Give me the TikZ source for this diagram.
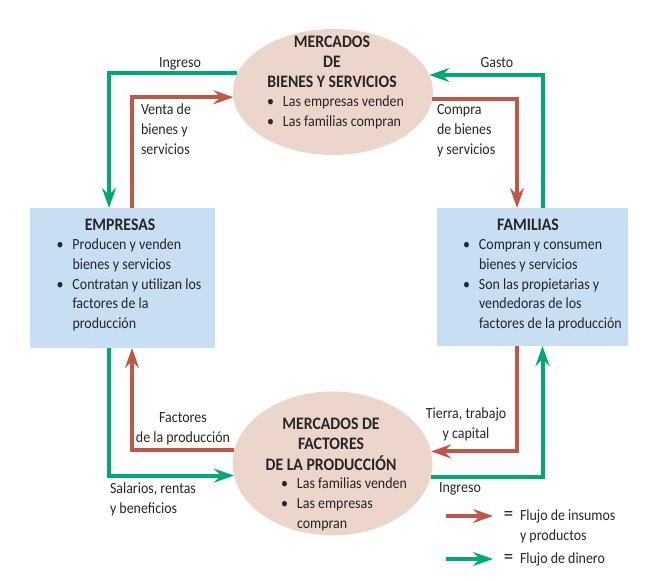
\documentclass[tikz,border=0pt]{standalone}
\usepackage{fontspec}
\setmainfont{Carlito}[FakeStretch=0.9]
\usetikzlibrary{arrows.meta,calc,shapes.geometric}
\definecolor{flowred}{HTML}{BF5647}
\definecolor{flowgreen}{HTML}{00A878}
\definecolor{ellfill}{HTML}{ECD5CA}
\definecolor{boxfill}{HTML}{C8DEF3}
\definecolor{txt}{HTML}{262626}
\newcommand{\tb}[2]{\begin{tabular}{@{}#1@{}}#2\end{tabular}}
\newcommand{\bl}{\makebox[16pt][l]{\textbullet}}
\newcommand{\ind}{\hspace*{16pt}}
\newcommand{\eqsign}{\makebox[11pt][c]{\fontsize{21}{19.7}\selectfont=}}
\tikzset{
  every node/.style={inner sep=0pt, outer sep=0pt, text=txt, font=\fontsize{15.5}{19.7}\selectfont},
  title/.style={font=\fontsize{17.5}{19.7}\selectfont\bfseries},
  market/.style={ellipse, fill=ellfill, draw=none},
  agent/.style={rectangle, fill=boxfill, draw=none},
  flow/.style={line width=4pt, -{Stealth[length=20pt,width=14pt,inset=7pt]}},
  redflow/.style={flow, draw=flowred},
  greenflow/.style={flow, draw=flowgreen},
}
\begin{document}
\begin{tikzpicture}[x=1pt,y=-1pt]
\useasboundingbox (0,0) rectangle (654,581);
% shapes
\node[market, minimum width=200pt, minimum height=126pt] (mbs) at (333,92) {};
\node[market, minimum width=200pt, minimum height=144pt] (mfp) at (332.5,463.5) {};
\node[agent, minimum width=185pt, minimum height=140pt] (emp) at (122.5,278) {};
\node[agent, minimum width=191pt, minimum height=138pt] (fam) at (532.5,277) {};
% texts in shapes
\node[title, anchor=north] (mbst) at (332,34) {\tb{c}{MERCADOS\\DE\\BIENES Y SERVICIOS}};
\node[anchor=north west] (mbsb) at (267,93) {\tb{l}{\bl Las empresas venden\\\bl Las familias compran}};
\node[title, anchor=north] (mfpt) at (331,416) {\tb{c}{MERCADOS DE\\FACTORES\\DE LA PRODUCCIÓN}};
\node[anchor=north west] (mfpb) at (281,475) {\tb{l}{\bl Las familias venden\\\bl Las empresas\\\ind compran}};
\node[title, anchor=north] (empt) at (120,217) {\tb{c}{EMPRESAS}};
\node[anchor=north west] (empb) at (56.5,236) {\tb{l}{\bl Producen y venden\\\ind bienes y servicios\\\bl Contratan y utilizan los\\\ind factores de la\\\ind producción}};
\node[title, anchor=north] (famt) at (528,217) {\tb{c}{FAMILIAS}};
\node[anchor=north west] (famb) at (463,236) {\tb{l}{\bl Compran y consumen\\\ind bienes y servicios\\\bl Son las propietarias y\\\ind vendedoras de los\\\ind factores de la producción}};
% flows
\draw[greenflow] (mbs.169.05) -| ([xshift=-13.5pt]emp.north);
\draw[redflow] ([xshift=9.5pt]emp.north) |- (mbs.183.45);
\draw[redflow] (mbs.356.55) -| ([xshift=-15.5pt]fam.north);
\draw[greenflow] ([xshift=10pt]fam.north) |- (mbs.10.95);
\draw[redflow] (mfp.172.77) -| ([xshift=9.5pt]emp.south);
\draw[greenflow] ([xshift=-13.5pt]emp.south) |- (mfp.187.23);
\draw[redflow] ([xshift=-15.5pt]fam.south) |- (mfp.7.23);
\draw[greenflow] (mfp.352.77) -| ([xshift=10pt]fam.south);
% flow labels
\node[anchor=north] (l1) at (180,54) {\tb{c}{Ingreso}};
\node[anchor=north] (l2) at (497,54) {\tb{c}{Gasto}};
\node[anchor=north west] (l3) at (141,101) {\tb{l}{Venta de\\bienes y\\servicios}};
\node[anchor=north west] (l4) at (437,101) {\tb{l}{Compra\\de bienes\\y servicios}};
\node[anchor=north] (l5) at (183,409) {\tb{c}{Factores\\de la producción}};
\node[anchor=north] (l6) at (466,405) {\tb{c}{Tierra, trabajo\\y capital}};
\node[anchor=north west] (l7) at (110,480) {\tb{l}{Salarios, rentas\\y beneficios}};
\node[anchor=north west] (l8) at (439,479) {\tb{l}{Ingreso}};
% legend
\coordinate (lr1) at (446,516);
\coordinate (lr2) at (493,516);
\coordinate (lg1) at (446,559);
\coordinate (lg2) at (493,559);
\draw[redflow] (lr1) -- (lr2);
\draw[greenflow] (lg1) -- (lg2);
\node[anchor=north west] (lt1) at (503,507) {\begin{tabular}{@{}l@{\hspace{6pt}}l@{}}\eqsign & Flujo de insumos\\ & y productos\end{tabular}};
\node[anchor=north west] (lt2) at (503,550) {\begin{tabular}{@{}l@{\hspace{6pt}}l@{}}\eqsign & Flujo de dinero\end{tabular}};
\end{tikzpicture}
\end{document}
